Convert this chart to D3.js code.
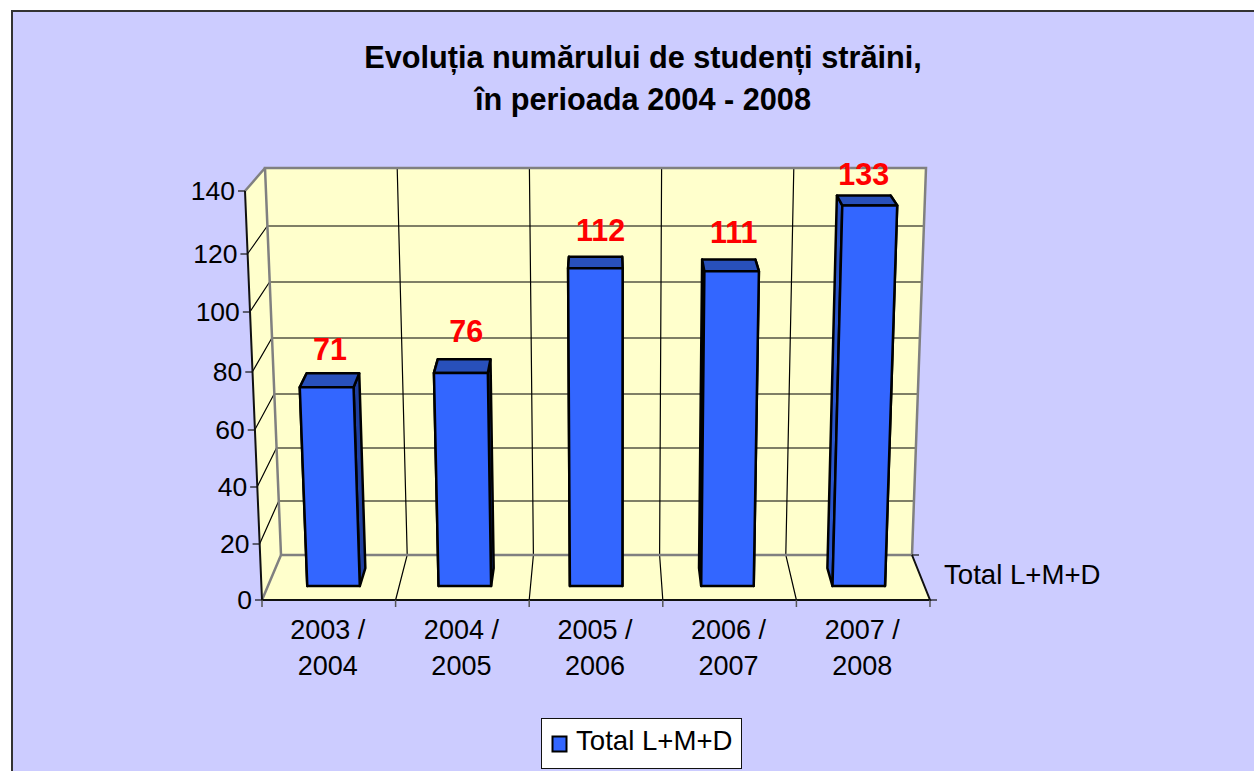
<!DOCTYPE html>
<html>
<head>
<meta charset="utf-8">
<script src="https://cdn.jsdelivr.net/npm/d3@7/dist/d3.min.js"></script>
<style>
  body { margin: 0; background: #fff; }
  svg { display: block; }
  text { font-family: "Liberation Sans", Arial, sans-serif; fill: #000; }
</style>
</head>
<body>
<svg id="chart" width="1254" height="771"></svg>
<script>
// data
var categories = [["2003 /", "2004"], ["2004 /", "2005"], ["2005 /", "2006"], ["2006 /", "2007"], ["2007 /", "2008"]];
var values = [71, 76, 112, 111, 133];
var yTicks = [0, 20, 40, 60, 80, 100, 120, 140];
var seriesName = "Total L+M+D";
var titleLines = ["Evoluția numărului de studenți străini,", "în perioada 2004 - 2008"];

var svg = d3.select("#chart");

// fake 3D box: front plane (depth 0) and back wall (depth 1), both map value -> pixels
var frontY = d3.scaleLinear().domain(yTicks).range([600, 544, 487, 430, 372, 312, 254, 191]);
var backY = d3.scaleLinear().domain(yTicks).range([555, 501, 448, 394, 338, 282, 226, 168]);
var frontLeft = d3.scaleLinear().domain([0, 140]).range([262, 245]);
var frontRight = d3.scaleLinear().domain([0, 140]).range([930, 945]);
var backLeft = d3.scaleLinear().domain([0, 140]).range([281, 265]);
var backRight = d3.scaleLinear().domain([0, 140]).range([912, 926]);

function project(c, v, d) {
  var l = d3.interpolateNumber(frontLeft(v), backLeft(v))(d);
  var r = d3.interpolateNumber(frontRight(v), backRight(v))(d);
  var y = d3.interpolateNumber(frontY(v), backY(v))(d);
  return [l + (r - l) * c / categories.length, y];
}
var poly = d3.line().curve(d3.curveLinearClosed);
var seg = d3.line();

// outer panel, runs off the right and bottom of the picture
svg.append("rect").attr("x", 12).attr("y", 11).attr("width", 1260).attr("height", 780)
  .attr("fill", "#ccccff").attr("stroke", "#333").attr("stroke-width", 2);

// title
svg.selectAll(".title").data(titleLines).enter().append("text")
  .attr("class", "title")
  .attr("x", 643)
  .attr("y", function(d, i) { return 68 + i * 42; })
  .attr("text-anchor", "middle")
  .attr("font-size", 30.7)
  .attr("font-weight", "bold")
  .text(function(d) { return d; });

// walls and floor
var wallFill = "#ffffcc";
var n = categories.length;
svg.append("path").attr("fill", wallFill)
  .attr("d", poly([project(0, 0, 1), project(0, 140, 1), project(n, 140, 1), project(n, 0, 1)]));
svg.append("path").attr("fill", wallFill)
  .attr("d", poly([project(0, 0, 0), project(0, 140, 0), project(0, 140, 1), project(0, 0, 1)]));
svg.append("path").attr("fill", wallFill)
  .attr("d", poly([project(0, 0, 0), project(0, 0, 1), project(n, 0, 1), project(n, 0, 0)]));

// gridlines
function line(pts, color, width) {
  return svg.append("path").attr("d", seg(pts)).attr("fill", "none")
    .attr("stroke", color).attr("stroke-width", width);
}
yTicks.slice(1, -1).forEach(function(v) {
  line([project(0, v, 0), project(0, v, 1), project(n, v, 1)], "#000", 1.2);
});
d3.range(1, n).forEach(function(c) {
  line([project(c, 0, 0), project(c, 0, 1), project(c, 140, 1)], "#000", 1.2);
});

// grey wall edges
line([project(0, 0, 0), project(0, 0, 1), project(n, 0, 1)], "#808080", 2.5);
line([project(0, 0, 1), project(0, 140, 1), project(n, 140, 1), project(n, 0, 1)], "#808080", 2.5);
line([project(0, 140, 0), project(0, 140, 1)], "#808080", 2.5);

// axes
line([project(0, 140, 0), project(0, 0, 0), project(n, 0, 0), project(n, 0, 1)], "#111", 2);
yTicks.forEach(function(v) {
  var p = project(0, v, 0);
  line([p, [p[0] - 7, p[1]]], "#111", 1.2);
});
d3.range(0, n + 1).forEach(function(c) {
  var p = project(c, 0, 0);
  line([p, [p[0], p[1] + 7]], "#555", 1.5);
});
line([project(n, 0, 0), [project(n, 0, 0)[0] + 7, 600]], "#111", 1.2);
line([project(n, 0, 1), [project(n, 0, 1)[0] + 7, 555]], "#111", 1.2);

svg.selectAll(".ytick").data(yTicks).enter().append("text")
  .attr("class", "ytick")
  .attr("x", function(d) { return project(0, d, 0)[0] - 10; })
  .attr("y", function(d) { return project(0, d, 0)[1] - 1; })
  .attr("dy", "0.36em")
  .attr("text-anchor", "end")
  .attr("font-size", 26.5)
  .text(function(d) { return d; });

categories.forEach(function(lines, c) {
  var x = project(c + 0.5, 0, 0)[0] - 1;
  lines.forEach(function(t, i) {
    svg.append("text").attr("x", x).attr("y", 639 + i * 36)
      .attr("text-anchor", "middle").attr("font-size", 27).text(t);
  });
});

svg.append("text").attr("x", 944).attr("y", 584).attr("font-size", 27.6).text(seriesName);

// bars, painted back to front
var barFront = 0.31, barBack = 0.71, barLo = 0.3, barHi = 0.7;
var faceColor = "#3366ff", topColor = "#2850bb", sideColor = "#1f3fa0";
values.forEach(function(v, i) {
  var c0 = i + barLo, c1 = i + barHi;
  var g = svg.append("g").attr("stroke", "#000").attr("stroke-width", 2.5).attr("stroke-linejoin", "round");
  g.append("path").attr("fill", "#2a55cc")
    .attr("d", poly([project(c0, 0, barFront), project(c0, v, barFront), project(c0, v, barBack), project(c0, 0, barBack)]));
  g.append("path").attr("fill", sideColor)
    .attr("d", poly([project(c1, 0, barFront), project(c1, v, barFront), project(c1, v, barBack), project(c1, 0, barBack)]));
  g.append("path").attr("fill", topColor)
    .attr("d", poly([project(c0, v, barFront), project(c0, v, barBack), project(c1, v, barBack), project(c1, v, barFront)]));
  g.append("path").attr("fill", faceColor)
    .attr("d", poly([project(c0, 0, barFront), project(c0, v, barFront), project(c1, v, barFront), project(c1, 0, barFront)]));
});

// data labels sit a bit above the back of the bar top
var labelDx = [-3, 2, 5, 5, 0];
var labelY = [360, 342, 241, 243, 185];
values.forEach(function(v, i) {
  var p = project(i + 0.5, v, barBack);
  svg.append("text").attr("x", p[0] + labelDx[i]).attr("y", labelY[i])
    .attr("text-anchor", "middle").attr("font-size", 30.5).attr("font-weight", "bold")
    .style("fill", "#ff0000").text(v);
});

// legend
svg.append("rect").attr("x", 541.5).attr("y", 718.5).attr("width", 200).attr("height", 50)
  .attr("fill", "#fff").attr("stroke", "#111").attr("stroke-width", 1);
svg.append("rect").attr("x", 552.5).attr("y", 736.5).attr("width", 14).attr("height", 15)
  .attr("fill", faceColor).attr("stroke", "#000").attr("stroke-width", 2);
svg.append("text").attr("x", 576).attr("y", 750).attr("font-size", 27.6).text(seriesName);
</script>
</body>
</html>
